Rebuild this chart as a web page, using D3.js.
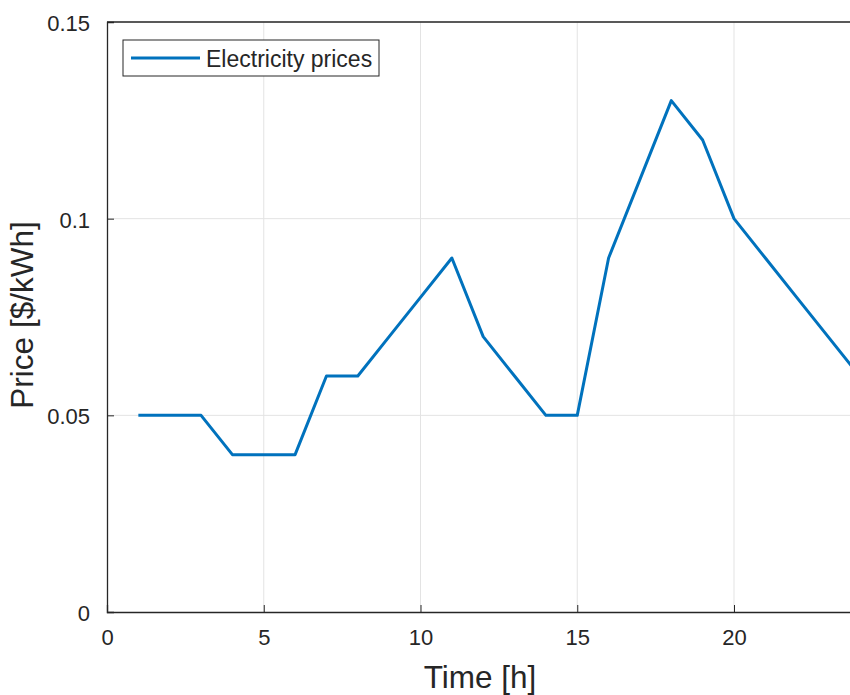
<!DOCTYPE html>
<html>
<head>
<meta charset="utf-8">
<script src="https://cdn.jsdelivr.net/npm/d3@7"></script>
<style>
  body { margin: 0; background: #fff; }
  svg { display: block; font-family: "Liberation Sans", Arial, sans-serif; }
</style>
</head>
<body>
<svg id="chart" width="850" height="695"></svg>
<script>
// data
const hours = [1, 2, 3, 4, 5, 6, 7, 8, 9, 10, 11, 12, 13, 14, 15, 16, 17, 18, 19, 20, 21, 22, 23, 24];
const prices = [0.05, 0.05, 0.05, 0.04, 0.04, 0.04, 0.06, 0.06, 0.07, 0.08, 0.09, 0.07,
                0.06, 0.05, 0.05, 0.09, 0.11, 0.13, 0.12, 0.10, 0.09, 0.08, 0.07, 0.06];
const xTicks = [0, 5, 10, 15, 20];
const yTicks = [0, 0.05, 0.1, 0.15];
const seriesName = "Electricity prices";

const LINE_BLUE = "#0072BD";
const AXIS_COL = "#262626";
const GRID_COL = "#e3e3e3";
const FONT = "Liberation Sans, Arial, sans-serif";

const margin = {left: 107, top: 22, bottom: 83};
const plotW = 24 * 31.35;   // right end runs past the window edge
const plotH = 695 - margin.top - margin.bottom;

const svg = d3.select("svg#chart");

const x = d3.scaleLinear().domain([0, 24]).range([margin.left, margin.left + plotW]);
const y = d3.scaleLinear().domain([0, 0.15]).range([margin.top + plotH, margin.top]);

// grid
const grid = svg.append("g");
grid.selectAll("line.gx")
    .data(xTicks.filter(d => d > 0))
    .join("line")
    .attr("x1", d => x(d)).attr("x2", d => x(d))
    .attr("y1", y(0)).attr("y2", y(0.15))
    .attr("stroke", GRID_COL).attr("stroke-width", 1);
grid.selectAll("line.gy")
    .data(yTicks.filter(d => d > 0))
    .join("line")
    .attr("x1", x(0)).attr("x2", x(24))
    .attr("y1", d => y(d)).attr("y2", d => y(d))
    .attr("stroke", GRID_COL).attr("stroke-width", 1);

// axes (matlab style: ticks inward)
const xAxis = d3.axisBottom(x).tickValues(xTicks).tickSize(-7).tickPadding(17).tickFormat(d3.format("d"));
const yAxis = d3.axisLeft(y).tickValues(yTicks).tickSize(-7).tickPadding(17).tickFormat(d => d === 0 ? "0" : String(d));

svg.append("g")
    .attr("transform", `translate(0,${y(0)})`)
    .call(xAxis)
    .attr("font-size", 22).attr("font-family", FONT)
    .call(g => g.selectAll("text").attr("fill", AXIS_COL))
    .call(g => g.selectAll("line").attr("stroke", AXIS_COL))
    .call(g => g.select(".domain").attr("stroke", AXIS_COL).attr("stroke-width", 1.3));

svg.append("g")
    .attr("transform", `translate(${x(0)},0)`)
    .call(yAxis)
    .attr("font-size", 22).attr("font-family", FONT)
    .call(g => g.selectAll("text").attr("fill", AXIS_COL).attr("dy", "0.38em"))
    .call(g => g.selectAll("line").attr("stroke", AXIS_COL))
    .call(g => g.select(".domain").attr("stroke", AXIS_COL).attr("stroke-width", 1.3));

// top border of the box
svg.append("line")
    .attr("x1", x(0)).attr("x2", x(24))
    .attr("y1", y(0.15)).attr("y2", y(0.15))
    .attr("stroke", AXIS_COL).attr("stroke-width", 1.3);

// price line
const line = d3.line()
    .x((d, i) => x(hours[i]))
    .y(d => y(d));

svg.append("path")
    .datum(prices)
    .attr("fill", "none")
    .attr("stroke", LINE_BLUE)
    .attr("stroke-width", 3)
    .attr("stroke-linejoin", "round")
    .attr("d", line);

// legend
const legend = svg.append("g").attr("transform", "translate(123,40)");
legend.append("rect")
    .attr("width", 256).attr("height", 36)
    .attr("fill", "#fff").attr("stroke", AXIS_COL).attr("stroke-width", 1);
legend.append("line")
    .attr("x1", 8).attr("x2", 77).attr("y1", 18).attr("y2", 18)
    .attr("stroke", LINE_BLUE).attr("stroke-width", 3);
legend.append("text")
    .attr("x", 83).attr("y", 27)
    .attr("font-size", 23).attr("fill", AXIS_COL)
    .text(seriesName);

// axis labels
svg.append("text")
    .attr("x", 480).attr("y", 688)
    .attr("text-anchor", "middle")
    .attr("font-size", 31.5).attr("fill", AXIS_COL)
    .text("Time [h]");

svg.append("text")
    .attr("transform", `translate(33,315) rotate(-90)`)
    .attr("text-anchor", "middle")
    .attr("font-size", 31.5).attr("fill", AXIS_COL)
    .text("Price [$/kWh]");
</script>
</body>
</html>
